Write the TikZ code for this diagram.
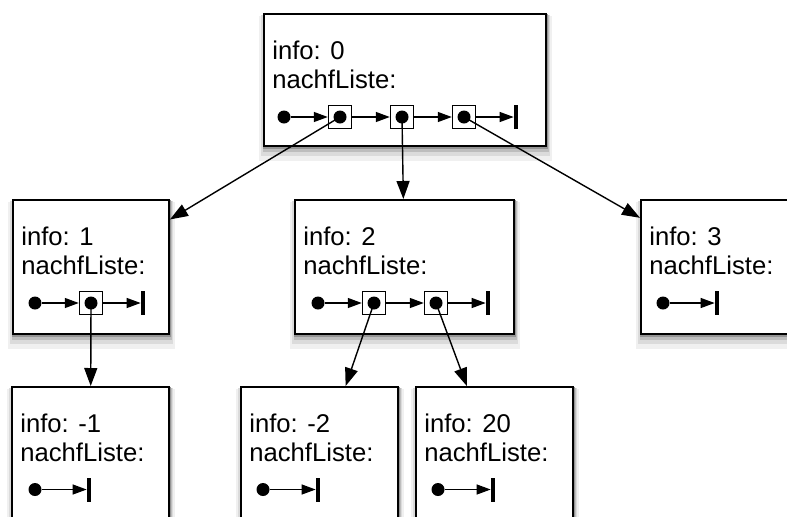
\documentclass[tikz,border=0pt]{standalone}
\usepackage{fontspec}
\setmainfont{Liberation Sans}
\usetikzlibrary{positioning, arrows.meta, backgrounds}

\begin{document}
\begin{tikzpicture}[
    obj/.style={rectangle, draw, line width=1.1pt, fill=white, anchor=north west, inner sep=0pt},
    txt/.style={anchor=base west, inner sep=0pt, font=\fontsize{14.6}{17}\selectfont},
    start/.style={circle, fill, inner sep=0pt, minimum size=2.6mm},
    cell/.style={rectangle, draw, line width=0.8pt, fill=white, inner sep=0pt, minimum size=4.6mm},
    nil/.style={rectangle, fill, inner sep=0pt, minimum width=0.8mm, minimum height=4.8mm},
    ptr/.style={-{Triangle[length=2.8mm, width=2mm]}, line width=0.7pt},
    link/.style={-{Triangle[length=3.6mm, width=2.6mm]}, line width=0.8pt},
    node distance=1.12cm, on grid
]
    \useasboundingbox (0,0) rectangle (15.74,10.32);

    % Wurzel (oben)
    \node[obj, minimum width=5.64cm, minimum height=2.64cm] (n0) at (5.26,10.06) {};
    \node[txt] (n0i) at (5.44,9.14) {info: 0};
    \node[txt] (n0l) at (5.44,8.56) {nachfListe:};
    \node[start] (n0s) at (5.68,7.98) {};
    \node[cell] (n0c1) [right=of n0s] {};
    \node[cell] (n0c2) [right=1.24cm of n0c1] {};
    \node[cell] (n0c3) [right=1.24cm of n0c2] {};
    \node[nil] (n0e) [right=1.04cm of n0c3] {};
    \node[start] (n0d1) at (n0c1) {};
    \node[start] (n0d2) at (n0c2) {};
    \node[start] (n0d3) at (n0c3) {};
    \draw[ptr] (n0s) -- (n0c1);
    \draw[ptr] (n0c1) -- (n0c2);
    \draw[ptr] (n0c2) -- (n0c3);
    \draw[ptr] (n0c3) -- (n0e);

    % zweite Ebene
    \node[obj, minimum width=3.12cm, minimum height=2.68cm] (n1) at (0.24,6.34) {};
    \node[txt] (n1i) at (0.42,5.42) {info: 1};
    \node[txt] (n1l) at (0.42,4.84) {nachfListe:};
    \node[start] (n1s) at (0.70,4.26) {};
    \node[cell] (n1c1) [right=of n1s] {};
    \node[nil] (n1e) [right=1.04cm of n1c1] {};
    \node[start] (n1d1) at (n1c1) {};
    \draw[ptr] (n1s) -- (n1c1);
    \draw[ptr] (n1c1) -- (n1e);

    \node[obj, minimum width=4.38cm, minimum height=2.68cm] (n2) at (5.88,6.34) {};
    \node[txt] (n2i) at (6.06,5.42) {info: 2};
    \node[txt] (n2l) at (6.06,4.84) {nachfListe:};
    \node[start] (n2s) at (6.36,4.26) {};
    \node[cell] (n2c1) [right=of n2s] {};
    \node[cell] (n2c2) [right=1.24cm of n2c1] {};
    \node[nil] (n2e) [right=1.04cm of n2c2] {};
    \node[start] (n2d1) at (n2c1) {};
    \node[start] (n2d2) at (n2c2) {};
    \draw[ptr] (n2s) -- (n2c1);
    \draw[ptr] (n2c1) -- (n2c2);
    \draw[ptr] (n2c2) -- (n2e);

    \node[obj, minimum width=3.4cm, minimum height=2.68cm] (n3) at (12.80,6.34) {};
    \node[txt] (n3i) at (12.98,5.42) {info: 3};
    \node[txt] (n3l) at (12.98,4.84) {nachfListe:};
    \node[start] (n3s) at (13.26,4.26) {};
    \node[nil] (n3e) [right=1.08cm of n3s] {};
    \draw[ptr] (n3s) -- (n3e);

    % dritte Ebene (unten)
    \node[obj, minimum width=3.14cm, minimum height=3cm] (nm1) at (0.22,2.60) {};
    \node[txt] (nm1i) at (0.40,1.68) {info: -1};
    \node[txt] (nm1l) at (0.40,1.10) {nachfListe:};
    \node[start] (nm1s) at (0.70,0.53) {};
    \node[nil] (nm1e) [right=1.08cm of nm1s] {};
    \draw[ptr] (nm1s) -- (nm1e);

    \node[obj, minimum width=3.14cm, minimum height=3cm] (nm2) at (4.80,2.60) {};
    \node[txt] (nm2i) at (4.98,1.68) {info: -2};
    \node[txt] (nm2l) at (4.98,1.10) {nachfListe:};
    \node[start] (nm2s) at (5.26,0.53) {};
    \node[nil] (nm2e) [right=1.1cm of nm2s] {};
    \draw[ptr] (nm2s) -- (nm2e);

    \node[obj, minimum width=3.14cm, minimum height=3cm] (n20) at (8.30,2.60) {};
    \node[txt] (n20i) at (8.48,1.68) {info: 20};
    \node[txt] (n20l) at (8.48,1.10) {nachfListe:};
    \node[start] (n20s) at (8.76,0.53) {};
    \node[nil] (n20e) [right=1.1cm of n20s] {};
    \draw[ptr] (n20s) -- (n20e);

    % Verweise auf die Nachfolger
    \draw[link] (n0c1.center) -- (n1);
    \draw[link] (n0c2.center) -- (n2);
    \draw[link] (n0c3.center) -- (n3);
    \draw[link] (n1c1.center) -- (nm1);
    \draw[link] (n2c1.center) -- (nm2.71);
    \draw[link] (n2c2.center) -- (n20.110);

    % Schatten
    \begin{scope}[on background layer]
        \foreach \b in {n0,n1,n2,n3,nm1,nm2,n20} {
            \fill[black!6] ([shift={(-0.08,-0.05)}]\b.north west) rectangle ([shift={(0.1,-0.28)}]\b.south east);
            \fill[black!14] ([shift={(-0.04,-0.04)}]\b.north west) rectangle ([shift={(0.06,-0.19)}]\b.south east);
            \fill[black!26] ([shift={(-0.01,-0.03)}]\b.north west) rectangle ([shift={(0.04,-0.11)}]\b.south east);
            \fill[black!42] ([shift={(0,-0.02)}]\b.north west) rectangle ([shift={(0.02,-0.05)}]\b.south east);
        }
    \end{scope}
\end{tikzpicture}
\end{document}
